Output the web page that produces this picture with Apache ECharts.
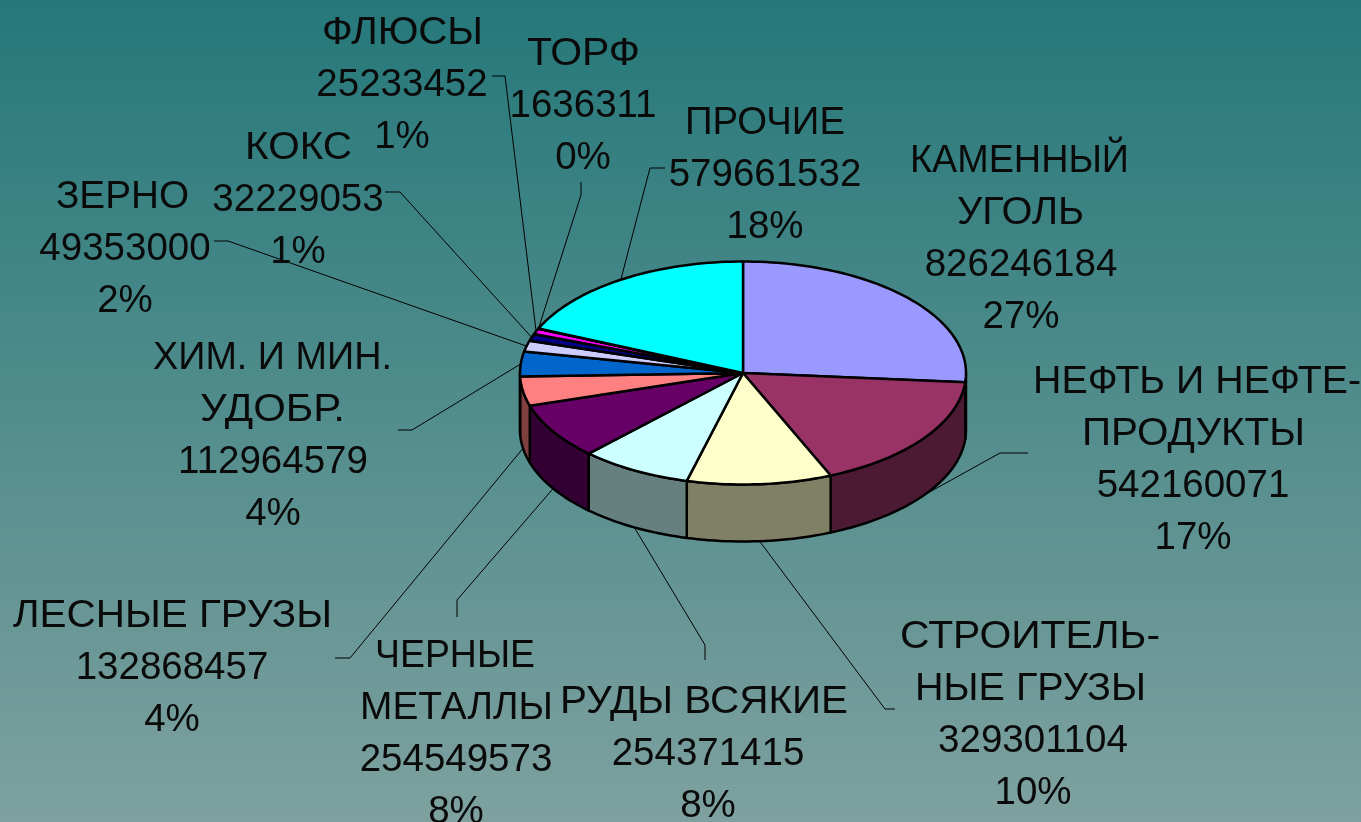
<!DOCTYPE html>
<html><head><meta charset="utf-8">
<style>html,body{margin:0;padding:0;overflow:hidden;background:#4f8a8a}#c{width:1361px;height:822px}</style>
<script src="https://cdn.jsdelivr.net/npm/echarts@6/dist/echarts.min.js"></script>
</head><body><div id="c"></div>
<script>
const categories = [['КАМЕННЫЙ','УГОЛЬ'],['НЕФТЬ И НЕФТЕ-','ПРОДУКТЫ'],['СТРОИТЕЛЬ-','НЫЕ ГРУЗЫ'],['РУДЫ ВСЯКИЕ'],['ЧЕРНЫЕ','МЕТАЛЛЫ'],['ЛЕСНЫЕ ГРУЗЫ'],['ХИМ. И МИН.','УДОБР.'],['ЗЕРНО'],['КОКС'],['ФЛЮСЫ'],['ТОРФ'],['ПРОЧИЕ']];
const values = [826246184,542160071,329301104,254371415,254549573,132868457,112964579,49353000,32229053,25233452,1636311,579661532];
const percents = ['27%','17%','10%','8%','8%','4%','4%','2%','1%','1%','0%','18%'];
const colors = ['#9999FF','#993366','#FFFFCC','#CCFFFF','#660066','#FF8080','#0066CC','#CCCCFF','#000080','#FF00FF','#FFFF00','#00FFFF'];
const wallColors = ['#4D4D80','#4D1A33','#808066','#668080','#330033','#804040','#003366','#666680','#000040','#800080','#808000','#008080'];

// layout only: pie geometry, label centres (x, y of first line), horizontal extents of name lines, leader elbows
const pie = {cx:743, cy:373, rx:223, ry:111.5, depth:57};
const labelAt = [[1021,159],[1193,380],[1033,635],[708,700],[456,654],[172,614],[273,356],[125,195],[298,146],[402,31],[583,52],[765,121]];
const nameExtent = [[[910,1129],[957,1084]],[[1033,1361],[1082,1305]],[[900,1160],[915,1146]],[[560,848]],[[375,535],[360,553]],[[13,332]],[[153,392],[200,345]],[[56,189]],[[245,352]],[[322,483]],[[527,640]],[[685,845]]];
const leaderAt = [null,[[1028,453],[1000,453]],[[895,709],[885,709]],[[705,660],[705,645]],[[457,617],[457,600]],[[335,658],[350,658]],[[398,430],[412,430]],[[214,241],[228,241]],[[385,192],[400,192]],[[492,76],[505,76]],[[581,182],[581,195]],[[665,168],[650,168]]];
const lineGap = 52, labelFont = '38.5px "Liberation Sans", Arial, sans-serif', ink = '#0a0a0a';

const measure = document.createElement('canvas').getContext('2d');
measure.font = labelFont;
const total = values.reduce((a,b)=>a+b,0);
const spans = []; let run = 0;
values.forEach(v=>{ spans.push([run/total*360,(run+v)/total*360]); run+=v; });
const P = (deg,dy=0)=>{const r=deg*Math.PI/180;return [pie.cx+pie.rx*Math.sin(r),pie.cy-pie.ry*Math.cos(r)+dy];};
const arc = (a,b,dy=0)=>{const o=[];const n=Math.max(2,Math.ceil((b-a)/1.5));for(let i=0;i<=n;i++)o.push(P(a+(b-a)*i/n,dy));return o;};

function renderWall(p,api){
  const i=api.value(0), a=Math.max(spans[i][0],90), b=Math.min(spans[i][1],270);
  if(b<=a) return {type:'group',children:[]};
  const pts=arc(a,b).concat(arc(a,b,pie.depth).reverse());
  return {type:'polygon',shape:{points:pts},style:{fill:wallColors[i],stroke:'#000',lineWidth:2.5,lineJoin:'round'}};
}
function renderTop(p,api){
  const i=api.value(0);
  const pts=[[pie.cx,pie.cy]].concat(arc(spans[i][0],spans[i][1]));
  return {type:'polygon',shape:{points:pts},style:{fill:colors[i],stroke:'#000',lineWidth:2.5,lineJoin:'round'}};
}
function renderLeader(p,api){
  const i=api.value(0); if(!leaderAt[i]) return {type:'group',children:[]};
  const mid=(spans[i][0]+spans[i][1])/2;
  const pts=leaderAt[i].concat([P(mid,(mid>90&&mid<270)?pie.depth:0)]);
  return {type:'polyline',shape:{points:pts},style:{fill:null,stroke:'#000',lineWidth:1}};
}
function lineText(text,x,y,scaleX){
  return {type:'text',x:x,y:y,scaleX:scaleX,style:{text:text,fill:ink,font:labelFont,align:'center',verticalAlign:'middle'}};
}
function renderLabel(p,api){
  const i=api.value(0), [x,y0]=labelAt[i], kids=[];
  let y=y0+2;
  categories[i].forEach((name,k)=>{
    const [l,r]=nameExtent[i][k];
    kids.push(lineText(name,(l+r)/2,y,(r-l)/measure.measureText(name).width));
    y+=lineGap;
  });
  kids.push(lineText(String(api.value(1)),x,y,1)); y+=lineGap;
  kids.push(lineText(percents[i],x,y,1));
  return {type:'group',children:kids};
}
const rows = values.map((v,i)=>[i,v]);
const mk=(fn,z)=>({type:'custom',coordinateSystem:'none',renderItem:fn,data:rows,silent:true,z:z,animation:false,clip:false,encode:{}});
const chart=echarts.init(document.getElementById('c'),null,{renderer:'canvas'});
chart.setOption({
  animation:false,
  backgroundColor:new echarts.graphic.LinearGradient(0,0,0,1,[{offset:0,color:'#25787A'},{offset:1,color:'#7EA19F'}]),
  series:[mk(renderLeader,1),mk(renderWall,2),mk(renderTop,3),mk(renderLabel,4)]
});
</script></body></html>
